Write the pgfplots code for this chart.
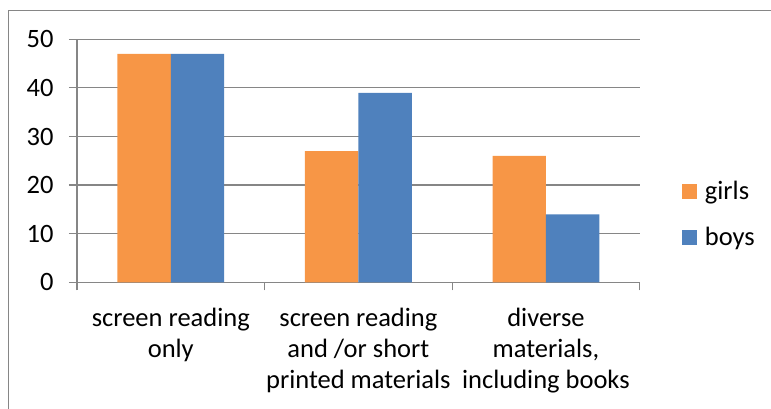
\documentclass[border=0pt]{standalone}
\usepackage{pgfplots}
\pgfplotsset{compat=1.18}
\usepackage{fontspec}
\setmainfont{Carlito}
\definecolor{girls}{HTML}{F79646}
\definecolor{boys}{HTML}{4F81BD}
\definecolor{axgray}{HTML}{868686}
\newcommand\chartfont{\fontsize{26.5pt}{31pt}\selectfont}
\begin{document}
\begin{tikzpicture}[x=1pt,y=1pt]
\useasboundingbox (0,0) rectangle (771,409);
\draw[axgray, line width=1.2pt] (8.3,-5) -- (8.3,398.3) -- (780,398.3);
\begin{axis}[
  at={(77pt,126.7pt)}, anchor=south west,
  scale only axis, width=562.7pt, height=243pt,
  xmin=-0.5, xmax=2.5, ymin=0, ymax=50,
  enlargelimits=false,
  ytick={0,10,...,50},
  xtick={0,1,2},
  xticklabels={{screen reading\\only},{screen reading\\and /or short\\printed materials},{diverse\\materials,\\including books}},
  minor xtick={-0.5,0.5,1.5,2.5},
  axis x line*=bottom, axis y line*=left,
  axis line style={axgray, line width=1.2pt, -},
  ymajorgrids, grid style={axgray, line width=1.2pt},
  tick align=outside,
  major tick length=8pt, minor tick length=8pt,
  tick style={axgray, line width=1.2pt},
  major x tick style={draw=none},
  ybar=0pt, bar width=53.4pt,
  /pgf/number format/assume math mode=true,
  tick label style={font=\chartfont, text=black},
  xticklabel style={align=center, yshift=-14pt},
  yticklabel style={xshift=-12pt},
  legend style={draw=none, fill=none, at={(1.0747,0.425)}, anchor=north west,
    font=\chartfont, row sep=22pt, inner sep=0pt,
    /tikz/every odd column/.append style={column sep=6pt}},
  legend cell align=left,
]
\addplot[fill=girls, draw=none, legend image code/.code={\fill[girls] (0pt,-7.5pt) rectangle (15pt,7.5pt);}] coordinates {(0,47) (1,27) (2,26)};
\addplot[fill=boys, draw=none, legend image code/.code={\fill[boys] (0pt,-7.5pt) rectangle (15pt,7.5pt);}] coordinates {(0,47) (1,39) (2,14)};
\legend{girls,boys}
\end{axis}
\end{tikzpicture}
\end{document}
